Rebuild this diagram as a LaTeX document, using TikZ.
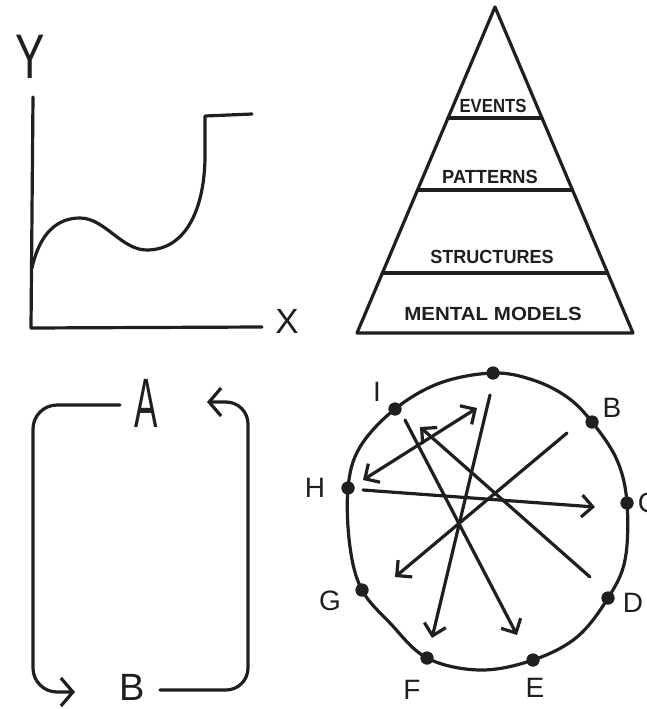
\documentclass[tikz,border=0pt]{standalone}
\usepackage{fontspec}
\setmainfont{Liberation Sans}
\usetikzlibrary{arrows.meta,calc}
\begin{document}
\begin{tikzpicture}[x=1pt,y=-1pt,
  ink/.style={line width=3.2pt, line cap=round, line join=round, black!88},
  barb/.style={-{Straight Barb[length=11pt,width=22pt]}},
  dbarb/.style={{Straight Barb[length=11pt,width=22pt]}-{Straight Barb[length=11pt,width=22pt]}},
  bigbarb/.style={-{Straight Barb[length=12pt,width=28pt]}},
  dot/.style={circle, fill=black!88, inner sep=0pt, minimum size=13pt},
  lab/.style={inner sep=0pt, text=black!88, font=\fontsize{28}{30}\selectfont},
  pyr/.style={inner sep=0pt, text=black!88, font=\bfseries\fontsize{19}{21}\selectfont}]
\useasboundingbox (0,0) rectangle (647,709);

% ---------- top-left: graph ----------
\node[inner sep=0pt, text=black!88, font=\fontsize{63}{65}\selectfont] (Y) at (30,57) {\scalebox{0.7}[1]{Y}};
\node[inner sep=0pt, text=black!88, font=\fontsize{35}{37}\selectfont] (X) at (287,321) {X};
\coordinate (ytop) at (33,97);
\coordinate (orig) at (31,328);
\coordinate (xend) at (262,327);
\draw[ink] (ytop) -- (orig) -- (xend);
\coordinate (c0) at (32,268);
\coordinate (c1) at (80,218);
\coordinate (c2) at (148,250);
\coordinate (c3) at (205,116);
\coordinate (c4) at (252,114);
\draw[ink] (c0) .. controls (40,232) and (58,218) .. (c1)
  .. controls (105,218) and (122,251) .. (c2)
  .. controls (188,249) and (205,205) .. (205,155) -- (c3) -- (c4);

% ---------- top-right: pyramid ----------
\coordinate (apex) at (495,7);
\coordinate (bl) at (357,333);
\coordinate (br) at (633,333);
\draw[ink] (apex) -- (bl) -- (br) -- cycle;
\draw[ink] ($(apex)!0.3405!(bl)$) -- ($(apex)!0.3405!(br)$);
\draw[ink] ($(apex)!0.5613!(bl)$) -- ($(apex)!0.5613!(br)$);
\draw[ink] ($(apex)!0.816!(bl)$) -- ($(apex)!0.816!(br)$);
\node[pyr] (ev) at (493,106) {\scalebox{0.88}[1]{EVENTS}};
\node[pyr] (pa) at (490,177) {\scalebox{0.96}[1]{PATTERNS}};
\node[pyr] (st) at (492,257) {\scalebox{0.95}[1]{STRUCTURES}};
\node[pyr] (mm) at (493,314) {\scalebox{1.08}[1]{MENTAL MODELS}};

% ---------- bottom-left: loop ----------
\node[inner sep=0pt, text=black!88, font=\fontsize{70}{72}\selectfont] (A) at (146,403) {\scalebox{0.5}[1]{A}};
\node[inner sep=0pt, text=black!88, font=\fontsize{38}{40}\selectfont] (B) at (132,687) {B};
\coordinate (lA) at (120,405);
\coordinate (lB) at (75,692);
\coordinate (rB) at (160,690);
\coordinate (rA) at (207,402);
\draw[ink, bigbarb, rounded corners=24pt] (lA) -- (33,405) -- (33,692) -- (lB);
\draw[ink, bigbarb, rounded corners=22pt] (rB) -- (248,690) -- (248,402) -- (rA);

% ---------- bottom-right: circle ----------
\node[dot] (pT) at (493,373) {};
\node[dot] (pB) at (592,422) {};
\node[dot] (pC) at (627,503) {};
\node[dot] (pD) at (608,598) {};
\node[dot] (pE) at (533,660) {};
\node[dot] (pF) at (427,658) {};
\node[dot] (pG) at (362,590) {};
\node[dot] (pH) at (348,488) {};
\node[dot] (pI) at (395,409) {};
\draw[ink] plot[smooth cycle, tension=0.6] coordinates {
  (pT.center) (533,380) (567,397) (pB.center) (617,460) (pC.center) (625,560)
  (pD.center) (577,637) (pE.center) (480,670) (pF.center) (390,623)
  (pG.center) (350,547) (pH.center) (360,447) (pI.center) (440,383)};
\node[dot] at (pT) {};
\node[dot] at (pB) {};
\node[dot] at (pC) {};
\node[dot] at (pD) {};
\node[dot] at (pE) {};
\node[dot] at (pF) {};
\node[dot] at (pG) {};
\node[dot] at (pH) {};
\node[dot] at (pI) {};

\node[lab] (lbI) at (377,392) {I};
\node[lab] (lbB) at (612,408) {B};
\node[lab] (lbC) at (648,503) {C};
\node[lab] (lbD) at (633,603) {D};
\node[lab] (lbE) at (535,688) {E};
\node[lab] (lbF) at (412,690) {F};
\node[lab] (lbG) at (330,601) {G};
\node[lab] (lbH) at (315,488) {H};

\coordinate (a1s) at (363,480);
\coordinate (a1e) at (477,408);
\coordinate (a2s) at (490,395);
\coordinate (a2e) at (432,638);
\coordinate (a3s) at (405,420);
\coordinate (a3e) at (517,635);
\coordinate (a4s) at (590,577);
\coordinate (a4e) at (420,427);
\coordinate (a5s) at (567,433);
\coordinate (a5e) at (395,577);
\coordinate (a6s) at (363,490);
\coordinate (a6e) at (595,507);
\draw[ink, dbarb] (a1s) -- (a1e);
\draw[ink, barb] (a2s) -- (a2e);
\draw[ink, barb] (a3s) -- (a3e);
\draw[ink, barb] (a4s) -- (a4e);
\draw[ink, barb] (a5s) -- (a5e);
\draw[ink, barb] (a6s) -- (a6e);
\end{tikzpicture}
\end{document}
